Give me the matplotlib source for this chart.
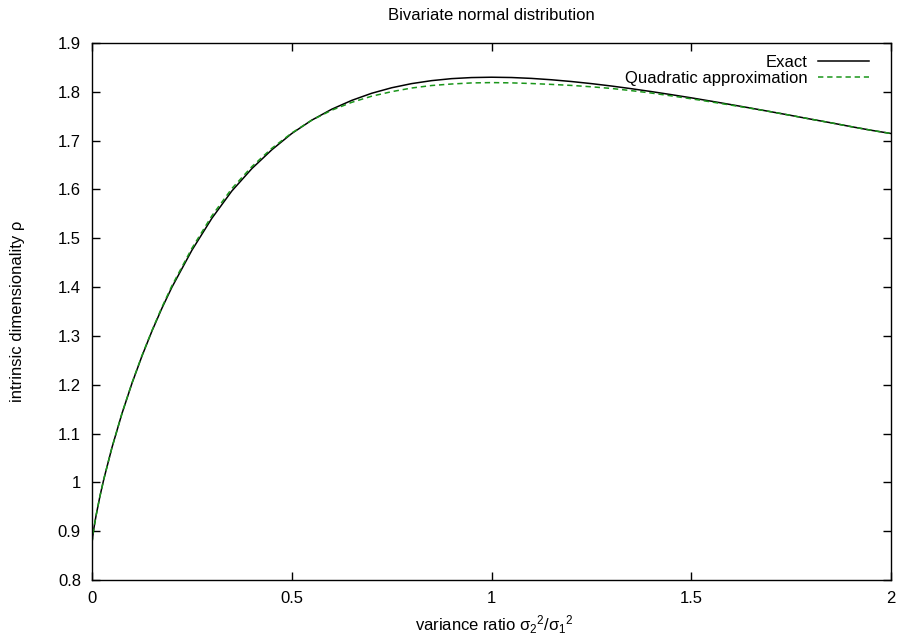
import matplotlib
matplotlib.use("Agg")
import matplotlib.pyplot as plt

# variance ratio sigma2^2/sigma1^2 (x) and intrinsic dimensionality
ratio = [0, 0.002, 0.005, 0.01, 0.02, 0.03, 0.05, 0.075, 0.1, 0.125, 0.15, 0.175,
         0.2, 0.25, 0.3, 0.35, 0.4, 0.45, 0.5, 0.55, 0.6, 0.65, 0.7, 0.75, 0.8,
         0.85, 0.9, 0.95, 1.0, 1.05, 1.1, 1.15, 1.2, 1.25, 1.3, 1.35, 1.4, 1.45,
         1.5, 1.55, 1.6, 1.65, 1.7, 1.75, 1.8, 1.85, 1.9, 1.95, 2.0]
exact = [0.876, 0.8905, 0.9073, 0.9312, 0.9721, 1.0080, 1.0714, 1.1410, 1.2028,
         1.2586, 1.3098, 1.3567, 1.3997, 1.4754, 1.5409, 1.5968, 1.6426, 1.6812,
         1.7146, 1.7419, 1.7643, 1.7824, 1.7970, 1.8083, 1.8168, 1.8229, 1.8270,
         1.8292, 1.8299, 1.8293, 1.8275, 1.8247, 1.8211, 1.8168, 1.8119, 1.8064,
         1.8005, 1.7942, 1.7877, 1.7808, 1.7737, 1.7665, 1.7591, 1.7516, 1.7439,
         1.7365, 1.7287, 1.7213, 1.7146]
quadratic = [0.876, 0.8905, 0.9073, 0.9312, 0.9721, 1.0080, 1.0714, 1.1412, 1.2035,
             1.2596, 1.3108, 1.3587, 1.4027, 1.4794, 1.5459, 1.6018, 1.6466, 1.6842,
             1.7156, 1.7419, 1.7623, 1.7784, 1.7910, 1.8003, 1.8078, 1.8129, 1.8160,
             1.8182, 1.8189, 1.8183, 1.8170, 1.8152, 1.8131, 1.8103, 1.8069, 1.8024,
             1.7975, 1.7917, 1.7857, 1.7793, 1.7727, 1.7660, 1.7591, 1.7516, 1.7439,
             1.7365, 1.7287, 1.7213, 1.7146]

xticks = [0, 0.5, 1, 1.5, 2]
xtick_labels = ["0", "0.5", "1", "1.5", "2"]
yticks = [0.8, 0.9, 1.0, 1.1, 1.2, 1.3, 1.4, 1.5, 1.6, 1.7, 1.8, 1.9]
ytick_labels = ["0.8", "0.9", "1", "1.1", "1.2", "1.3", "1.4", "1.5", "1.6", "1.7", "1.8", "1.9"]

plt.rcParams['font.family'] = ['Liberation Sans', 'DejaVu Sans']
plt.rcParams['mathtext.fontset'] = 'custom'
plt.rcParams['mathtext.rm'] = 'Liberation Sans'
plt.rcParams['mathtext.it'] = 'Liberation Sans'
plt.rcParams['font.size'] = 12

fig = plt.figure(figsize=(9, 6.37), dpi=100)
ax = fig.add_axes([92 / 900, 1 - 580 / 637, (891 - 92) / 900, (580 - 43) / 637])

ax.plot(ratio, exact, color='black', linewidth=1.1, label='Exact')
ax.plot(ratio, quadratic, color='#1a961a', linewidth=1.1, linestyle=(0, (3.5, 2.5)),
        label='Quadratic approximation')

ax.set_xlim(0, 2)
ax.set_ylim(0.8, 1.9)
ax.set_xticks(xticks)
ax.set_xticklabels(xtick_labels)
ax.set_yticks(yticks)
ax.set_yticklabels(ytick_labels)
ax.tick_params(direction='in', length=6, width=1, top=True, right=True, pad=8)
for s in ax.spines.values():
    s.set_linewidth(1)

fig.text(491.5 / 900, 1 - 15 / 637, 'Bivariate normal distribution', ha='center', va='center')
fig.text(494 / 900, 1 - 631 / 637, r'variance ratio $\sigma_2{}^2/\sigma_1{}^2$',
         ha='center', va='baseline')
fig.text(18 / 900, 1 - 311.5 / 637, 'intrinsic dimensionality ρ', rotation=90,
         ha='center', va='center')

ax.legend(loc='upper right', frameon=False, markerfirst=False, handlelength=3.1,
          borderaxespad=0.3, labelspacing=0.1, handletextpad=0.6,
          bbox_to_anchor=(1 - 10 / 799, 1.0))

fig.savefig('out.png', dpi=100)
